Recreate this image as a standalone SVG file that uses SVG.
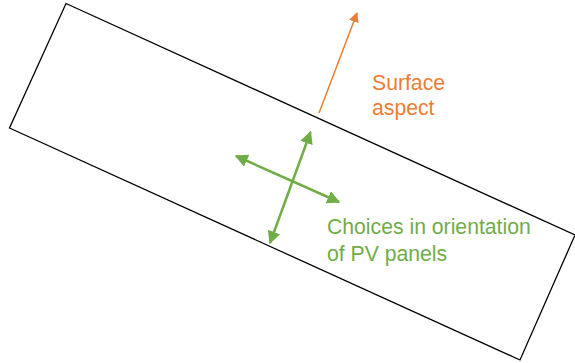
<svg xmlns="http://www.w3.org/2000/svg" width="575" height="363" viewBox="0 0 575 363">
<style>
.lbl{font-family:"Liberation Sans",Arial,sans-serif;font-size:21.2px}
.or{fill:#ED7D31}
.gr{fill:#70AD47}
</style>
<defs>
<marker id="ao" viewBox="0 0 10 10" refX="9" refY="5" markerWidth="10" markerHeight="10" markerUnits="userSpaceOnUse" orient="auto"><path d="M0,0L10,5L0,10z" fill="#ED7D31"/></marker>
<marker id="ag" viewBox="0 0 10 10" refX="9" refY="5" markerWidth="13" markerHeight="13" markerUnits="userSpaceOnUse" orient="auto-start-reverse"><path d="M0,0L10,5L0,10z" fill="#70AD47"/></marker>
</defs>
<g id="surface"><path d="M66,3.5L575,235L520,360L9.5,128Z" fill="none" stroke="#000" stroke-width="1.3"/></g>
<g id="connectors">
<line x1="319" y1="113" x2="357" y2="13" stroke="#ED7D31" stroke-width="1.5" marker-end="url(#ao)"/>
<line x1="236" y1="156" x2="339" y2="202" stroke="#70AD47" stroke-width="2.5" marker-start="url(#ag)" marker-end="url(#ag)"/>
<line x1="310.5" y1="132" x2="270" y2="243" stroke="#70AD47" stroke-width="2.5" marker-start="url(#ag)" marker-end="url(#ag)"/>
</g>
<g id="label-aspect"><text class="lbl or" x="372" y="90">Surface</text><text class="lbl or" x="372" y="115">aspect</text></g>
<g id="label-choices"><text class="lbl gr" x="327" y="234">Choices in orientation</text><text class="lbl gr" x="327" y="261">of PV panels</text></g>
</svg>
